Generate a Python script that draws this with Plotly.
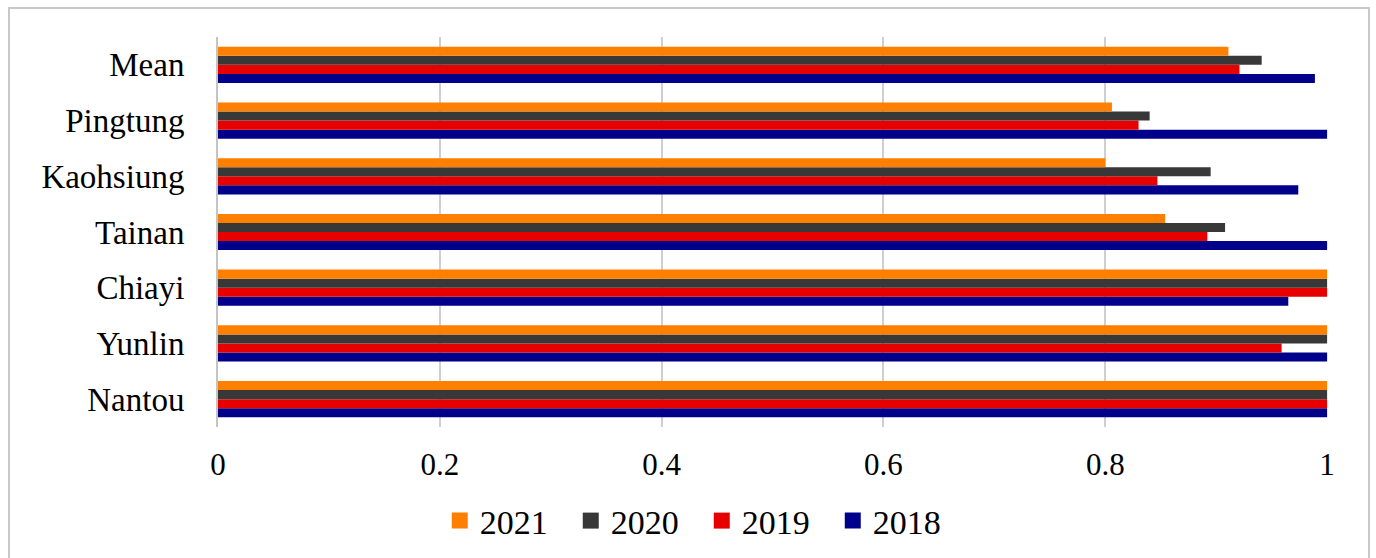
import plotly.graph_objects as go

categories = ["Nantou", "Yunlin", "Chiayi", "Tainan", "Kaohsiung", "Pingtung", "Mean"]
v2018 = [1.0, 1.0, 0.965, 1.0, 0.974, 1.0, 0.989]
v2019 = [1.0, 0.959, 1.0, 0.892, 0.847, 0.830, 0.921]
v2020 = [1.0, 1.0, 1.0, 0.908, 0.895, 0.840, 0.941]
v2021 = [1.0, 1.0, 1.0, 0.854, 0.800, 0.806, 0.911]
tick_vals = [0, 0.2, 0.4, 0.6, 0.8, 1]
tick_text = ["0", "0.2", "0.4", "0.6", "0.8", "1"]

series = [
    ("2018", v2018, "#00008B"),
    ("2019", v2019, "#E60000"),
    ("2020", v2020, "#383838"),
    ("2021", v2021, "#FF7F00"),
]

FONT = "Liberation Serif, Times New Roman, serif"

# plot area geometry (pixels) used for the decorative outer frame
L, R, T, B = 218, 48, 37, 131
W, H = 1376, 558
PW, PH = W - L - R, H - T - B

fig = go.Figure()
for name, vals, color in series:
    fig.add_trace(go.Bar(
        y=categories, x=vals, name=name, orientation="h",
        marker=dict(color=color, line=dict(width=0)),
        showlegend=False,
    ))
# legend entries as square markers
for name, vals, color in series:
    fig.add_trace(go.Scatter(
        x=[None], y=[None], name=name, mode="markers",
        marker=dict(symbol="square", size=16, color=color),
        showlegend=True,
    ))

fig.update_layout(
    width=W, height=H,
    margin=dict(l=L, r=R, t=T, b=B, autoexpand=False),
    paper_bgcolor="white", plot_bgcolor="white",
    barmode="group", bargap=0.35, bargroupgap=0,
    font=dict(family=FONT, color="black", size=30),
    legend=dict(
        orientation="h", traceorder="reversed",
        x=0.51, xanchor="center", xref="container",
        y=(H - 521) / H, yanchor="middle", yref="container",
        font=dict(family=FONT, size=34, color="black"),
        itemwidth=30, itemsizing="trace",
        bgcolor="rgba(0,0,0,0)",
        entrywidth=86, entrywidthmode="pixels",
    ),
    xaxis=dict(
        range=[0, 1.0008], tickvals=tick_vals, ticktext=tick_text,
        showgrid=True, gridcolor="#cfcfcf", gridwidth=2,
        zeroline=False, showline=False,
        tickfont=dict(family=FONT, size=31, color="black"),
        ticks="", ticklabelstandoff=16,
    ),
    yaxis=dict(
        showline=True, linecolor="#c4c4c4", linewidth=2,
        showgrid=False, zeroline=False,
        tickfont=dict(family=FONT, size=33, color="black"),
        ticks="", ticklabelstandoff=25,
    ),
    shapes=[dict(
        type="rect", xref="paper", yref="paper",
        x0=(9 - L) / PW, x1=(1369 - L) / PW,
        y0=(H - B - 570) / PH, y1=(H - B - 8) / PH,
        line=dict(color="#c8c8c8", width=2), fillcolor="rgba(0,0,0,0)",
        layer="below",
    )],
)

fig.write_html("out.html")
